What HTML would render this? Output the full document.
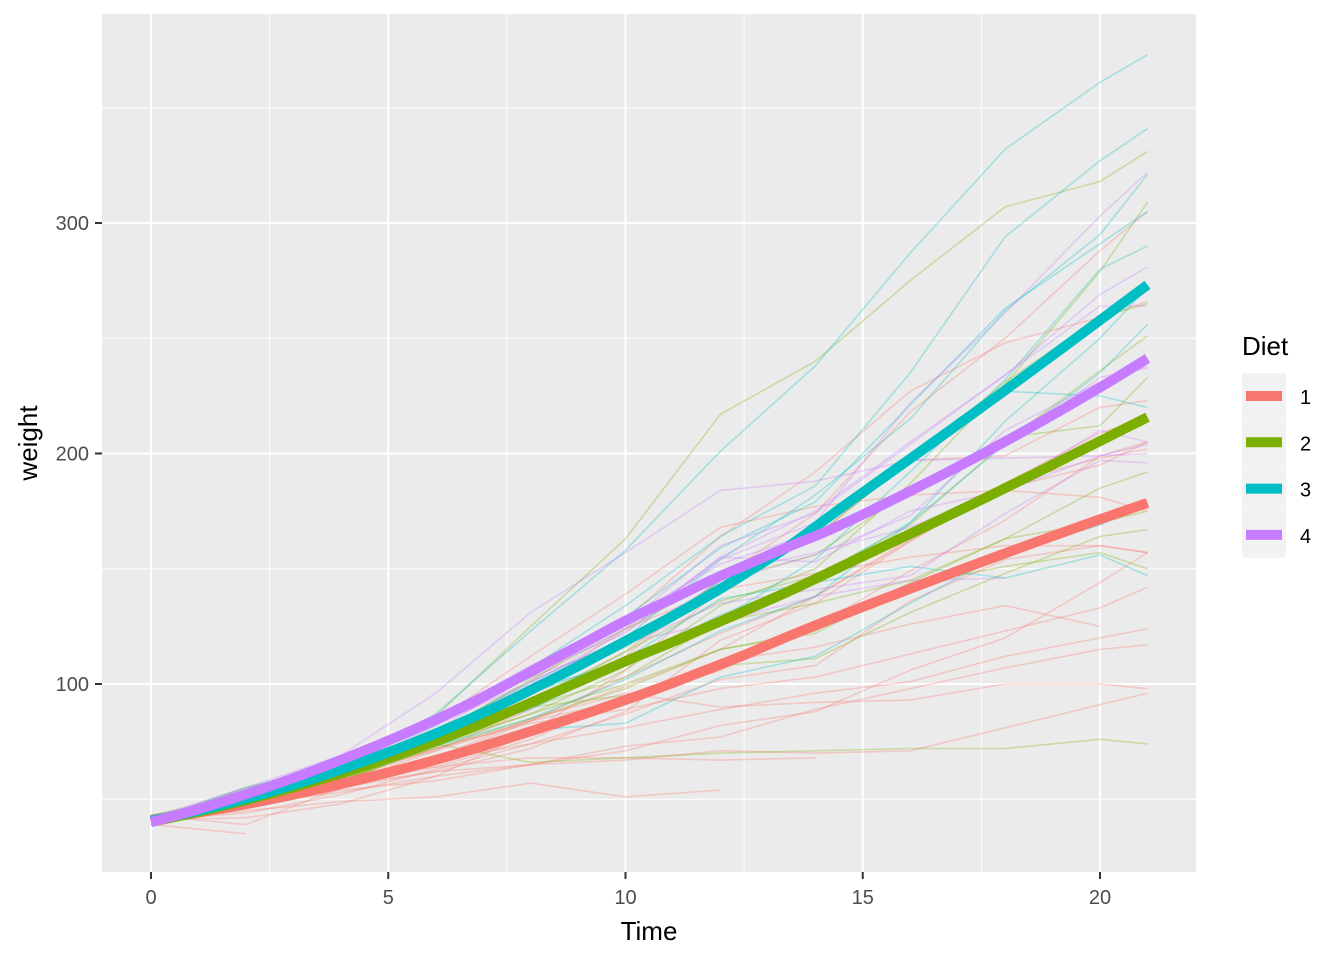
<!DOCTYPE html>
<html><head><meta charset="utf-8"><style>
body{margin:0;background:#fff;}
svg{display:block;font-family:"Liberation Sans",Arial,sans-serif;}
</style></head><body>
<svg id="chart" width="1344" height="960" viewBox="0 0 1344 960">
<rect x="102" y="14" width="1094" height="858" fill="#EBEBEB"/>
<g id="grid"></g>
<g id="thin"></g>
<g id="thick"></g>
<g id="axes"></g>
<text x="649" y="940" font-size="26" text-anchor="middle" fill="#000">Time</text>
<text transform="translate(37,443) rotate(-90)" font-size="26" text-anchor="middle" fill="#000">weight</text>
<g id="legend">
<text x="1242" y="355" font-size="26" fill="#000">Diet</text>
</g>
</svg>
<script>
const times=[0,2,4,6,8,10,12,14,16,18,20,21];
const chickDiet=[1,1,1,1,1,1,1,1,1,1,1,1,1,1,1,1,1,1,1,1,2,2,2,2,2,2,2,2,2,2,3,3,3,3,3,3,3,3,3,3,4,4,4,4,4,4,4,4,4,4];
const weights=[
[42,51,59,64,76,93,106,125,149,171,199,205],
[40,49,58,72,84,103,122,138,162,187,209,215],
[43,39,55,67,84,99,115,138,163,187,198,202],
[42,49,56,67,74,87,102,108,136,154,160,157],
[41,42,48,60,79,106,141,164,197,199,220,223],
[41,49,59,74,97,124,141,148,155,160,160,157],
[41,49,57,71,89,112,146,174,218,250,288,305],
[42,50,61,71,84,93,110,116,126,134,125],
[42,51,59,68,85,96,90,92,93,100,100,98],
[41,44,52,63,74,81,89,96,101,112,120,124],
[43,51,63,84,112,139,168,177,182,184,181,175],
[41,49,56,62,72,88,119,135,162,185,195,205],
[41,48,53,60,65,67,71,70,71,81,91,96],
[41,49,62,79,101,128,164,192,227,248,259,266],
[41,49,56,64,68,68,67,68],
[41,45,49,51,57,51,54],
[42,51,61,72,83,89,98,103,113,123,133,142],
[39,35],
[43,48,55,62,65,71,82,88,106,120,144,157],
[41,47,54,58,65,73,77,89,98,107,115,117],
[40,50,62,86,125,163,217,240,275,307,318,331],
[41,55,64,77,90,95,108,111,131,148,164,167],
[43,52,61,73,90,103,127,135,145,163,170,175],
[42,52,58,74,66,68,70,71,72,72,76,74],
[40,49,62,78,102,124,146,164,197,231,259,265],
[42,48,57,74,93,114,136,147,169,205,236,251],
[39,46,58,73,87,100,115,123,144,163,185,192],
[39,46,58,73,92,114,145,156,184,207,212,233],
[39,48,59,74,87,106,134,150,187,230,279,309],
[42,48,59,72,85,98,115,122,143,151,157,150],
[42,53,62,73,85,102,123,138,170,204,235,256],
[41,49,65,82,107,129,159,179,221,263,291,305],
[39,50,63,77,96,111,137,144,151,146,156,147],
[41,49,63,85,107,134,164,186,235,294,327,341],
[41,53,64,87,123,158,201,238,287,332,361,373],
[39,48,61,76,98,116,145,166,198,227,225,220],
[41,48,56,68,80,83,103,112,135,157,169,178],
[41,49,61,74,98,109,128,154,192,232,280,290],
[42,50,61,78,89,109,130,146,170,214,250,272],
[41,55,66,79,101,120,154,182,215,262,295,321],
[42,51,66,85,103,124,155,153,175,184,199,204],
[42,49,63,84,103,126,160,174,204,234,269,281],
[42,55,69,96,131,157,184,188,197,198,199,200],
[42,51,65,86,103,118,127,138,145,146],
[41,50,61,78,98,117,135,141,147,174,197,196],
[40,52,62,82,101,120,144,156,173,210,231,238],
[41,53,66,79,100,123,148,157,168,185,210,205],
[39,50,62,80,104,125,154,170,222,261,303,322],
[40,53,64,85,108,128,152,166,184,203,233,237],
[41,54,67,84,105,122,155,175,205,234,264,264]];
const diets=[1,2,3,4];
const dietColors=["#F8766D","#7CAE00","#00BFC4","#C77CFF"];
const xTicks=[0,5,10,15,20];
const yTicks=[100,200,300];
const NS="http://www.w3.org/2000/svg";
const X=t=>151+t*47.45;
const Y=w=>684-(w-100)*2.305;
function mk(tag,attrs,parent){const e=document.createElementNS(NS,tag);for(const k in attrs)e.setAttribute(k,attrs[k]);parent.appendChild(e);return e;}
const grid=document.getElementById('grid');
[2.5,7.5,12.5,17.5].forEach(t=>{const l=mk('line',{x1:X(t),x2:X(t),y1:14,y2:872,stroke:'#fff','stroke-width':1},grid);});
[50,150,250,350].forEach(w=>{const l=mk('line',{x1:102,x2:1196,y1:Y(w),y2:Y(w),stroke:'#fff','stroke-width':1},grid);});
const axes=document.getElementById('axes');
xTicks.forEach(t=>{const l=mk('line',{x1:X(t),x2:X(t),y1:14,y2:872,stroke:'#fff','stroke-width':2},grid);
 const k=mk('line',{x1:X(t),x2:X(t),y1:872,y2:879,stroke:'#333','stroke-width':2},axes);
 const tx=mk('text',{x:X(t),y:904,'font-size':20,'text-anchor':'middle',fill:'#4D4D4D'},axes);tx.textContent=t;});
yTicks.forEach(w=>{const l=mk('line',{x1:102,x2:1196,y1:Y(w),y2:Y(w),stroke:'#fff','stroke-width':2},grid);
 const k=mk('line',{x1:95,x2:102,y1:Y(w),y2:Y(w),stroke:'#333','stroke-width':2},axes);
 const tx=mk('text',{x:89,y:Y(w)+7,'font-size':20,'text-anchor':'end',fill:'#4D4D4D'},axes);tx.textContent=w;});
const thin=document.getElementById('thin');
weights.forEach((ws,i)=>{const d=ws.map((w,j)=>(j?'L':'M')+X(times[j]).toFixed(1)+','+Y(w).toFixed(1)).join('');
 const p=mk('path',{d:d,fill:'none',stroke:dietColors[chickDiet[i]-1],'stroke-opacity':0.3,'stroke-width':1.6},thin);
 });
function solve3(A,b){const M=A.map((r,i)=>r.concat([b[i]]));for(let i=0;i<3;i++){let p=i;for(let r=i+1;r<3;r++)if(Math.abs(M[r][i])>Math.abs(M[p][i]))p=r;[M[i],M[p]]=[M[p],M[i]];for(let r=0;r<3;r++){if(r===i)continue;const f=M[r][i]/M[i][i];for(let c=i;c<4;c++)M[r][c]-=f*M[i][c];}}return M.map((r,i)=>r[3]/r[i]);}
// loess (span 0.75, degree 2, tricube)
function loessAt(xs,ys,x0){const n=xs.length,q=Math.floor(n*0.75);const ds=xs.map(x=>Math.abs(x-x0)).sort((a,b)=>a-b);const h=Math.max(ds[q-1],1e-9)*1.0000001;
 const S=[0,0,0,0,0],T=[0,0,0];
 for(let i=0;i<n;i++){const u=Math.abs(xs[i]-x0)/h;if(u>=1)continue;const w=Math.pow(1-u*u*u,3);const dx=xs[i]-x0;for(let k=0;k<5;k++)S[k]+=w*Math.pow(dx,k);for(let k=0;k<3;k++)T[k]+=w*ys[i]*Math.pow(dx,k);}
 return solve3([[S[0],S[1],S[2]],[S[1],S[2],S[3]],[S[2],S[3],S[4]]],T)[0];}
const thick=document.getElementById('thick');
diets.forEach((dt,di)=>{const xs=[],ys=[];
 weights.forEach((ws,i)=>{if(chickDiet[i]!==dt)return;ws.forEach((w,j)=>{xs.push(times[j]);ys.push(w);});});
 let d='';for(let k=0;k<=80;k++){const t=21*k/80;const w=loessAt(xs,ys,t);d+=(k?'L':'M')+X(t).toFixed(1)+','+Y(w).toFixed(1);}
 const p=mk('path',{d:d,fill:'none',stroke:dietColors[di],'stroke-width':10,'stroke-linecap':'butt'},thick);
 });
const lg=document.getElementById('legend');
diets.forEach((dt,i)=>{const y=373+i*46.3;
 const r=mk('rect',{x:1242,y:y,width:44,height:46,fill:'#F2F2F2'},lg);
 const l=mk('line',{x1:1246,x2:1282,y1:y+23,y2:y+23,stroke:dietColors[i],'stroke-width':10},lg);
 const t=mk('text',{x:1300,y:y+31,'font-size':20,fill:'#000'},lg);t.textContent=dt;});
</script>
</body></html>
